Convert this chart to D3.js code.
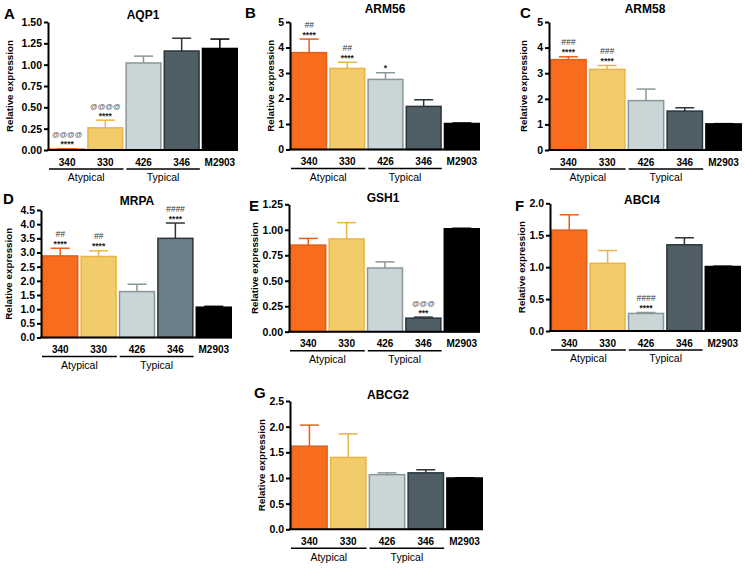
<!DOCTYPE html>
<html>
<head>
<meta charset="utf-8">
<script src="https://cdn.jsdelivr.net/npm/d3@7"></script>
<style>
  html, body { margin: 0; padding: 0; background: #fff; }
  svg { display: block; font-family: "Liberation Sans", Arial, sans-serif; }
</style>
</head>
<body>
<svg id="chart" width="745" height="570"></svg>
<script>
// ---------------- data ----------------
const categories = ["340", "330", "426", "346", "M2903"];
const groupNames = ["Atypical", "Typical"];
const groupMembers = [["340", "330"], ["426", "346"]];

const aqp1Mean  = [0.01, 0.26, 1.02, 1.16, 1.19];
const aqp1Sem   = [0.005, 0.09, 0.08, 0.15, 0.11];
const arm56Mean = [3.80, 3.18, 2.75, 1.69, 1.02];
const arm56Sem  = [0.53, 0.24, 0.26, 0.26, 0.02];
const arm58Mean = [3.53, 3.15, 1.93, 1.52, 1.02];
const arm58Sem  = [0.11, 0.15, 0.45, 0.13, 0.01];
const mrpaMean  = [2.88, 2.86, 1.62, 3.50, 1.07];
const mrpaSem   = [0.27, 0.20, 0.26, 0.54, 0.03];
const gsh1Mean  = [0.85, 0.91, 0.625, 0.133, 1.01];
const gsh1Sem   = [0.065, 0.16, 0.06, 0.01, 0.005];
const abci4Mean = [1.58, 1.06, 0.275, 1.35, 1.01];
const abci4Sem  = [0.24, 0.20, 0.015, 0.11, 0.005];
const abcg2Mean = [1.62, 1.40, 1.065, 1.10, 1.00];
const abcg2Sem  = [0.41, 0.46, 0.035, 0.06, 0.005];

const aqp1Ticks  = [0, 0.25, 0.5, 0.75, 1.0, 1.25, 1.5];
const arm56Ticks = [0, 1, 2, 3, 4, 5];
const arm58Ticks = [0, 1, 2, 3, 4, 5];
const mrpaTicks  = [0, 0.5, 1.0, 1.5, 2.0, 2.5, 3.0, 3.5, 4.0, 4.5];
const gsh1Ticks  = [0, 0.25, 0.5, 0.75, 1.0, 1.25];
const abci4Ticks = [0, 0.5, 1.0, 1.5, 2.0];
const abcg2Ticks = [0, 0.5, 1.0, 1.5, 2.0, 2.5];

// significance marks: [upper line, lower line] per category
const aqp1Marks  = [["@@@@", "****"], ["@@@@", "****"], null, null, null];
const arm56Marks = [["##", "****"], ["##", "****"], ["", "*"], null, null];
const arm58Marks = [["###", "****"], ["###", "****"], null, null, null];
const mrpaMarks  = [["##", "****"], ["##", "****"], null, ["####", "****"], null];
const gsh1Marks  = [null, null, null, ["@@@", "***"], null];
const abci4Marks = [null, null, ["####", "****"], null, null];
const abcg2Marks = [null, null, null, null, null];

// ---------------- styles ----------------
const fillColors   = ["#F76C1D", "#F2CB6B", "#C9D5D7", "#505E66", "#000000"];
const strokeColors = ["#E0611C", "#EAB447", "#8A9799", "#2B353B", "#000000"];
const mrpaFill     = ["#F76C1D", "#F2CB6B", "#C9D5D7", "#6C7F88", "#000000"];

// ---------------- layout ----------------
const panels = [
  {letter: "A", title: "AQP1",  mean: aqp1Mean,  sem: aqp1Sem,  ticks: aqp1Ticks,  fmt: ".2f", marks: aqp1Marks,
   x0: 48, x1: 238, top: 22, base: 150, ylab: 9, letterPos: [4, 19], titlePos: [143, 19], fills: fillColors},
  {letter: "B", title: "ARM56", mean: arm56Mean, sem: arm56Sem, ticks: arm56Ticks, fmt: "d", marks: arm56Marks,
   x0: 290, x1: 480, top: 22, base: 149.5, ylab: 270, letterPos: [245, 18], titlePos: [385, 13], fills: fillColors},
  {letter: "C", title: "ARM58", mean: arm58Mean, sem: arm58Sem, ticks: arm58Ticks, fmt: "d", marks: arm58Marks,
   x0: 549, x1: 742, top: 22, base: 150, ylab: 523, letterPos: [520, 18], titlePos: [645, 13], fills: fillColors},
  {letter: "D", title: "MRPA",  mean: mrpaMean,  sem: mrpaSem,  ticks: mrpaTicks,  fmt: ".1f", marks: mrpaMarks,
   x0: 41, x1: 232, top: 210, base: 337.5, ylab: 8, letterPos: [3, 204], titlePos: [137, 205], fills: mrpaFill},
  {letter: "E", title: "GSH1",  mean: gsh1Mean,  sem: gsh1Sem,  ticks: gsh1Ticks,  fmt: ".2f", marks: gsh1Marks,
   x0: 289, x1: 480, top: 204.3, base: 331.7, ylab: 254, letterPos: [249, 211], titlePos: [383, 202], fills: fillColors},
  {letter: "F", title: "ABCI4", mean: abci4Mean, sem: abci4Sem, ticks: abci4Ticks, fmt: ".1f", marks: abci4Marks,
   x0: 550, x1: 741, top: 203.3, base: 331, ylab: 521, letterPos: [515, 211], titlePos: [642, 204], fills: fillColors},
  {letter: "G", title: "ABCG2", mean: abcg2Mean, sem: abcg2Sem, ticks: abcg2Ticks, fmt: ".1f", marks: abcg2Marks,
   x0: 290, x1: 483, top: 401, base: 529.3, ylab: 262, letterPos: [254, 398], titlePos: [388, 399], fills: fillColors}
];

const svg = d3.select("#chart");

panels.forEach(p => {
  const g = svg.append("g");
  const maxV = p.ticks[p.ticks.length - 1];
  const y = d3.scaleLinear().domain([0, maxV]).range([p.base, p.top]);
  const x = d3.scaleBand().domain(categories).range([p.x0 + 1, p.x1]).paddingInner(0.05).paddingOuter(0);
  const bw = x.bandwidth();

  // bars
  g.selectAll("rect.bar").data(categories).enter().append("rect")
    .attr("x", (c) => x(c) + 0.75)
    .attr("width", bw - 1.5)
    .attr("y", (c, i) => y(p.mean[i]))
    .attr("height", (c, i) => Math.max(0.8, p.base - y(p.mean[i])))
    .attr("fill", (c, i) => p.fills[i])
    .attr("stroke", (c, i) => strokeColors[i])
    .attr("stroke-width", 1.5);

  // error bars (upper only)
  const capW = 19;
  categories.forEach((c, i) => {
    const cx = x(c) + bw / 2;
    const yt = y(p.mean[i] + p.sem[i]);
    g.append("line").attr("x1", cx).attr("x2", cx)
      .attr("y1", y(p.mean[i])).attr("y2", yt)
      .attr("stroke", strokeColors[i]).attr("stroke-width", 1.5);
    g.append("line").attr("x1", cx - capW / 2).attr("x2", cx + capW / 2)
      .attr("y1", yt).attr("y2", yt)
      .attr("stroke", strokeColors[i]).attr("stroke-width", 1.5);

    const m = p.marks[i];
    if (m) {
      g.append("text").attr("x", cx).attr("y", yt - 1.5)
        .attr("text-anchor", "middle").attr("font-size", 8.5).attr("font-weight", "bold")
        .attr("fill", "#222").text(m[1]);
      if (m[0]) {
        const isAt = m[0].indexOf("@") >= 0;
        g.append("text").attr("x", cx).attr("y", yt - 11.5)
          .attr("text-anchor", "middle")
          .attr("font-size", isAt ? 7.5 : 8.5)
          .attr("font-style", isAt ? "normal" : "italic")
          .attr("fill", isAt ? "#555" : "#333").text(m[0]);
      }
    }
  });

  // y axis
  const yAxis = d3.axisLeft(y).tickValues(p.ticks).tickSize(4).tickSizeOuter(0)
    .tickFormat(d3.format(p.fmt));
  const ya = g.append("g").attr("transform", `translate(${p.x0},0)`).call(yAxis);
  ya.select(".domain").attr("stroke", "#000").attr("stroke-width", 2);
  ya.selectAll(".tick line").attr("stroke", "#000").attr("stroke-width", 2);
  ya.selectAll(".tick text").attr("font-size", 10.5).attr("font-weight", "bold")
    .attr("font-family", "'Liberation Sans', Arial, sans-serif").attr("fill", "#000").attr("x", -6);

  // x axis
  const xAxis = d3.axisBottom(x).tickSize(0).tickPadding(8.5);
  const xa = g.append("g").attr("transform", `translate(0,${p.base})`).call(xAxis);
  xa.select(".domain").remove();
  xa.selectAll(".tick text").attr("font-size", 10).attr("font-weight", "bold")
    .attr("font-family", "'Liberation Sans', Arial, sans-serif").attr("fill", "#000");
  g.append("line").attr("x1", p.x0 - 1).attr("x2", p.x1).attr("y1", p.base).attr("y2", p.base)
    .attr("stroke", "#000").attr("stroke-width", 2);

  // group brackets
  groupNames.forEach((name, gi) => {
    const mem = groupMembers[gi];
    const gx0 = x(mem[0]) + (gi === 0 ? 0 : 1);
    const gx1 = x(mem[mem.length - 1]) + bw;
    g.append("line").attr("x1", gx0).attr("x2", gx1)
      .attr("y1", p.base + 19).attr("y2", p.base + 19)
      .attr("stroke", "#000").attr("stroke-width", 1.5);
    g.append("text").attr("x", (gx0 + gx1) / 2).attr("y", p.base + 31.3)
      .attr("text-anchor", "middle").attr("font-size", 10.5).attr("fill", "#000").text(name);
  });

  // y label (kept clear of the tick labels)
  let tickW = 0;
  ya.selectAll(".tick text").each(function () { tickW = Math.max(tickW, this.getComputedTextLength()); });
  const lx = Math.min(p.ylab + 3.5, p.x0 - 6 - tickW - 4);
  const cy = (p.top + p.base) / 2;
  g.append("text").attr("transform", `translate(${lx},${cy}) rotate(-90)`)
    .attr("text-anchor", "middle").attr("font-size", 9.8).attr("font-weight", "bold")
    .attr("fill", "#000").text("Relative expression");

  // title
  g.append("text").attr("x", p.titlePos[0]).attr("y", p.titlePos[1])
    .attr("text-anchor", "middle").attr("font-size", 12).attr("font-weight", "bold")
    .attr("fill", "#000").text(p.title);

  // panel letter
  g.append("text").attr("x", p.letterPos[0]).attr("y", p.letterPos[1])
    .attr("font-size", 15).attr("font-weight", "bold").attr("fill", "#000").text(p.letter);
});
</script>
</body>
</html>
